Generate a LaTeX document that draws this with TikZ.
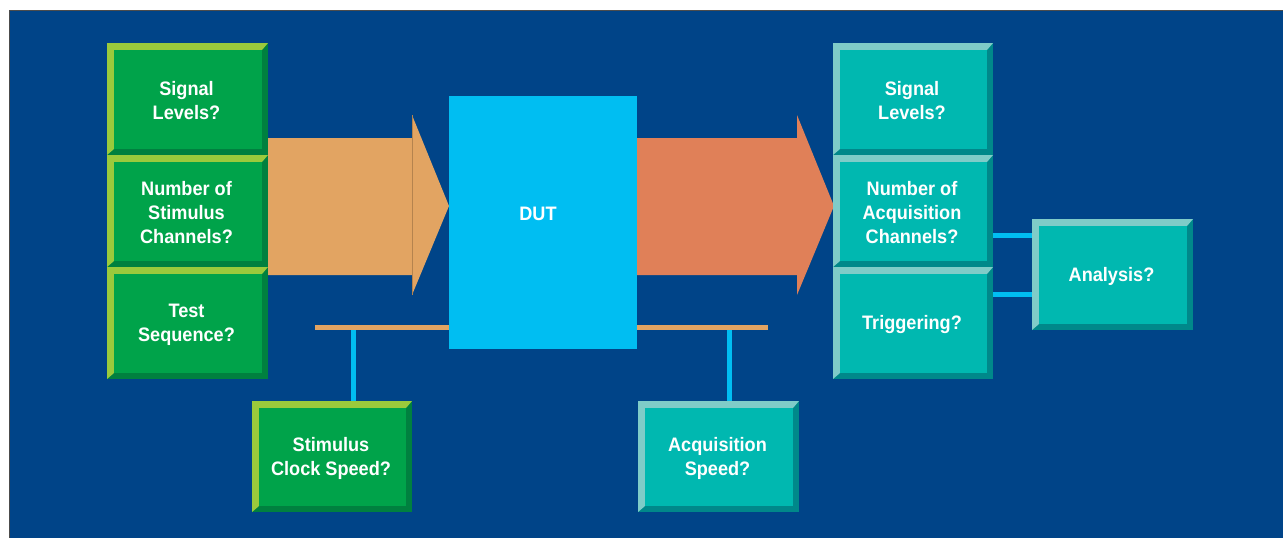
\documentclass[tikz,border=0pt]{standalone}
\usepackage{fontspec}
\setmainfont{Liberation Sans}[FakeStretch=0.93]
\definecolor{bgblue}{RGB}{0,68,136}
\definecolor{gface}{RGB}{0,163,74}
\definecolor{glight}{RGB}{154,202,60}
\definecolor{gdark}{RGB}{0,128,63}
\definecolor{tface}{RGB}{0,184,176}
\definecolor{tlight}{RGB}{127,204,200}
\definecolor{tdark}{RGB}{0,136,138}
\definecolor{arrowA}{RGB}{226,164,98}
\definecolor{arrowB}{RGB}{224,128,88}
\definecolor{dutblue}{RGB}{0,190,242}
\tikzset{
  boxtext/.style={text=white, align=center, inner sep=0pt,
    font=\bfseries\fontsize{19.5}{24}\selectfont},
  blueline/.style={draw=dutblue, line width=5pt},
  orangebar/.style={draw=arrowA, line width=5.5pt},
}
% \bevbox{name}{x1}{y1}{x2}{y2}{light}{face}{dark}{text}
\newcommand\bevbox[9]{%
  \fill[#8] (#2,#3) rectangle (#4,#5);
  \fill[#6] (#2,#3) -- (#4,#3) -- (#4-6,#3+7) -- (#2+7,#3+7) -- (#2+7,#5-6) -- (#2,#5) -- cycle;
  \fill[#7] (#2+7,#3+7) rectangle (#4-6,#5-6);
  \node[boxtext, minimum width=#4-#2, minimum height=#5-#3] (#1) at ({(#2+#4)/2},{(#3+#5)/2}) {};
  \node[boxtext] (#1-text) at ({(#2+#4)/2-1},{(#3+#5)/2+1.5}) {#9};
}
\begin{document}
\begin{tikzpicture}[x=1pt,y=-1pt]
\useasboundingbox (0,0) rectangle (1283,538);
\fill[white] (0,0) rectangle (1283,538);
\fill[bgblue] (9,11) rectangle (1283,538);
\draw[black!70, line width=1.2pt] (9.6,538) -- (9.6,10.6) -- (1283,10.6);

% arrows
\fill[arrowA] (268,138) -- (412,138) -- (412,115) -- (449,206) -- (412,295) -- (412,275) -- (268,275) -- cycle;
\draw[arrowA!80!black, line width=0.6pt] (412,115) -- (412,295);
\fill[arrowB] (637,138) -- (797,138) -- (797,115) -- (834,206) -- (797,295) -- (797,275) -- (637,275) -- cycle;

% bar behind DUT
\coordinate (barL) at (315,327.5);
\coordinate (barR) at (768,327.5);
\draw[orangebar] (barL) -- (barR);

% DUT
\fill[dutblue] (449,96) rectangle (637,349);
\node[boxtext, minimum width=188, minimum height=253] (dut) at (543,222.5) {};
\node[boxtext] (duttext) at (538,213.5) {DUT};

% left column
\bevbox{sig}{107}{43}{268}{155}{glight}{gface}{gdark}{Signal\\Levels?}
\bevbox{nstim}{107}{155}{268}{267}{glight}{gface}{gdark}{Number of\\Stimulus\\Channels?}
\bevbox{testseq}{107}{267}{268}{379}{glight}{gface}{gdark}{Test\\Sequence?}
\bevbox{stimclk}{252}{401}{412}{512}{glight}{gface}{gdark}{Stimulus\\Clock Speed?}

% right column
\bevbox{sigr}{833}{43}{993}{155}{tlight}{tface}{tdark}{Signal\\Levels?}
\bevbox{nacq}{833}{155}{993}{267}{tlight}{tface}{tdark}{Number of\\Acquisition\\Channels?}
\bevbox{trig}{833}{267}{993}{379}{tlight}{tface}{tdark}{Triggering?}
\bevbox{acqspd}{638}{401}{799}{512}{tlight}{tface}{tdark}{Acquisition\\Speed?}
\bevbox{analysis}{1032}{219}{1193}{330}{tlight}{tface}{tdark}{Analysis?}

% connectors
\coordinate (tapL) at (353.5,330);
\coordinate (tapR) at (729.5,330);
\draw[blueline] (tapL) -- (stimclk.north -| tapL);
\draw[blueline] (tapR) -- (acqspd.north -| tapR);
\draw[blueline] (nacq.east |- 0,235) -- (analysis.west |- 0,235);
\draw[blueline] (trig.east |- 0,294) -- (analysis.west |- 0,294);
\end{tikzpicture}
\end{document}
